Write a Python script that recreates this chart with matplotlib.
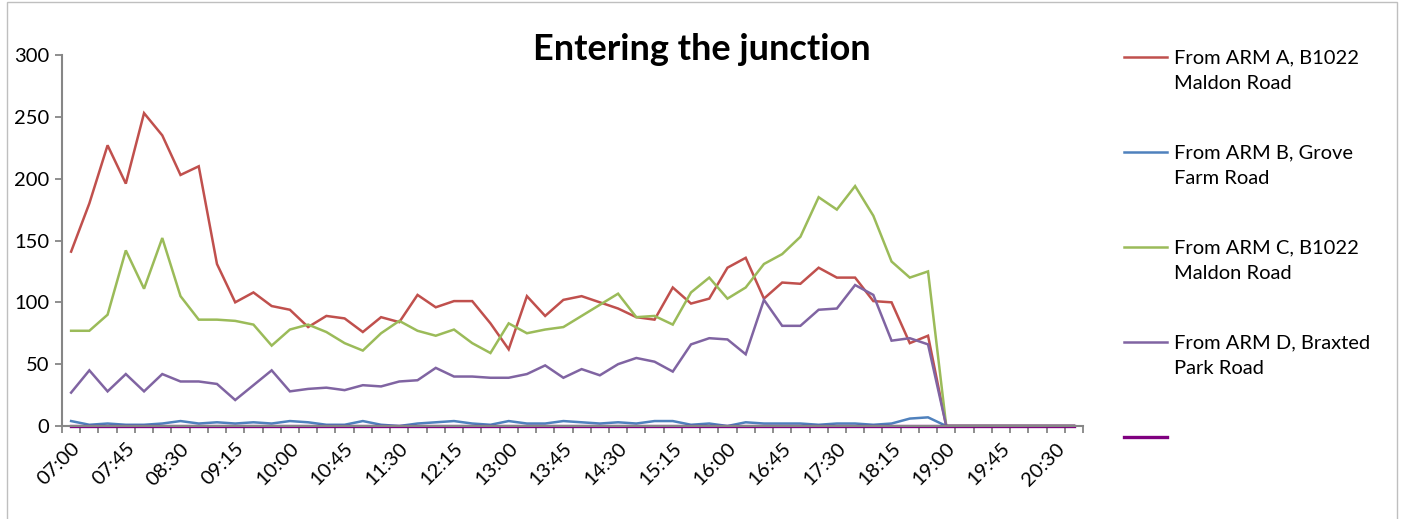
import numpy as np
import matplotlib
matplotlib.use("Agg")
import matplotlib.pyplot as plt
from matplotlib.lines import Line2D
from matplotlib.patches import Rectangle

plt.rcParams['font.family'] = ['Lato', 'DejaVu Sans']

# 15 minute periods, 07:00 to 20:45
times = ["%02d:%02d" % (7 + m // 60, m % 60) for m in range(0, 56 * 15, 15)]

arm_a = [141, 180, 227, 196, 253, 235, 203, 210, 131, 100, 108, 97, 94, 80,
         89, 87, 76, 88, 84, 106, 96, 101, 101, 83, 62, 105, 89, 102, 105,
         100, 95, 88, 86, 112, 99, 103, 128, 136, 103, 116, 115, 128, 120,
         120, 101, 100, 67, 73, 0, 0, 0, 0, 0, 0, 0, 0]
arm_b = [4, 1, 2, 1, 1, 2, 4, 2, 3, 2, 3, 2, 4, 3, 1, 1, 4, 1, 0, 2, 3, 4,
         2, 1, 4, 2, 2, 4, 3, 2, 3, 2, 4, 4, 1, 2, 0, 3, 2, 2, 2, 1, 2, 2,
         1, 2, 6, 7, 0, 0, 0, 0, 0, 0, 0, 0]
arm_c = [77, 77, 90, 142, 111, 152, 105, 86, 86, 85, 82, 65, 78, 82, 76,
         67, 61, 75, 85, 77, 73, 78, 67, 59, 83, 75, 78, 80, 89, 98, 107,
         88, 89, 82, 108, 120, 103, 112, 131, 139, 153, 185, 175, 194, 170,
         133, 120, 125, 0, 0, 0, 0, 0, 0, 0, 0]
arm_d = [27, 45, 28, 42, 28, 42, 36, 36, 34, 21, 33, 45, 28, 30, 31, 29,
         33, 32, 36, 37, 47, 40, 40, 39, 39, 42, 49, 39, 46, 41, 50, 55,
         52, 44, 66, 71, 70, 58, 102, 81, 81, 94, 95, 114, 106, 69, 71, 66,
         0, 0, 0, 0, 0, 0, 0, 0]
blank = [0] * 56

labels = ["From ARM A, B1022\nMaldon Road",
          "From ARM B, Grove\nFarm Road",
          "From ARM C, B1022\nMaldon Road",
          "From ARM D, Braxted\nPark Road",
          ""]
series = [arm_a, arm_b, arm_c, arm_d, blank]
colours = ["#C0504D", "#4F81BD", "#9BBB59", "#8064A2", "#7F007F"]
widths = [1.8, 1.8, 1.8, 1.8, 2.4]

W, H = 1405, 519
fig = plt.figure(figsize=(W / 100, H / 100), dpi=100)
ax = fig.add_axes([62 / W, 1 - 426 / H, (1083 - 62) / W, (426 - 55) / H])

x = np.arange(len(times))
for vals, col, lw in zip(series, colours, widths):
    ax.plot(x, vals, color=col, lw=lw, clip_on=False, solid_joinstyle='miter')

ax.set_xlim(-0.5, len(times) - 0.5)
ax.set_ylim(0, 300)
ax.set_yticks(range(0, 301, 50))

# labels every 45 minutes, tick marks between categories
ax.set_xticks(x[::3])
ax.set_xticklabels(times[::3], rotation=45, ha='right', rotation_mode='anchor')
ax.set_xticks(np.arange(-0.5, len(times), 1), minor=True)
ax.tick_params(axis='x', which='major', length=0, pad=10, labelsize=14.5)
ax.tick_params(axis='x', which='minor', length=5, width=1.3, color='#868686')
ax.tick_params(axis='y', length=5, width=1.3, color='#868686', labelsize=14.5, pad=4)

for side in ['top', 'right']:
    ax.spines[side].set_visible(False)
for side in ['left', 'bottom']:
    ax.spines[side].set_color('#868686')
    ax.spines[side].set_linewidth(1.5)

fig.text(702 / W, 1 - 49 / H, "Entering the junction", ha='center', va='center',
         fontsize=26, fontweight='bold')

# legend down the right hand side
for i, (lab, col, lw) in enumerate(zip(labels, colours, widths)):
    y = 1 - (57 + 95 * i) / H
    fig.add_artist(Line2D([1124 / W, 1167 / W], [y, y], color=col, lw=lw,
                          transform=fig.transFigure))
    fig.text(1174 / W, y + 8 / H, lab, ha='left', va='top', fontsize=14.5,
             linespacing=1.65)

fig.add_artist(Rectangle((7 / W, -0.1), (1397 - 7) / W, 1.1 - 2 / H,
                         transform=fig.transFigure, fill=False,
                         edgecolor='#bfbfbf', lw=1))

fig.savefig("out.png", dpi=100)
